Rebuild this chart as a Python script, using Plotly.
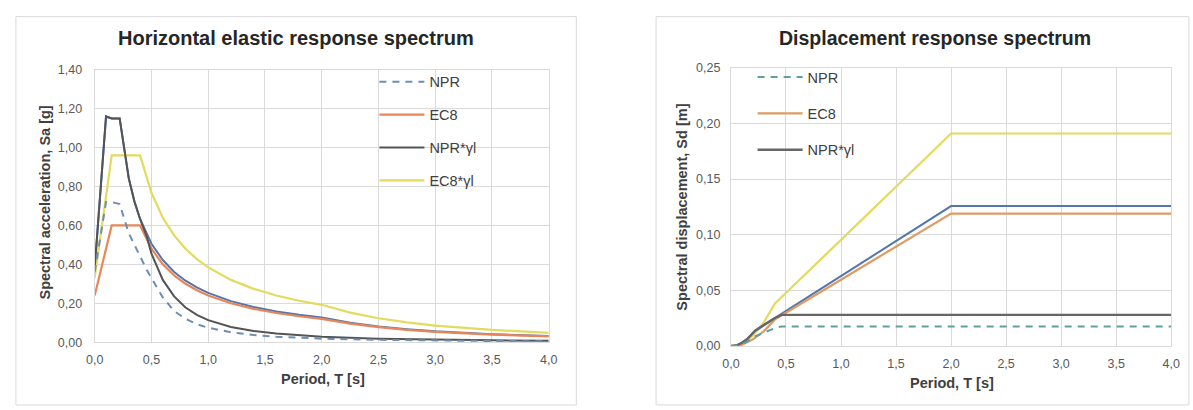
import plotly.graph_objects as go

# ---------------- data: left chart (spectral acceleration, g) ----------------
T_npr = [0, 0.1, 0.15, 0.22, 0.3, 0.35, 0.4, 0.46, 0.5, 0.6, 0.7, 0.8, 0.9, 1.0,
         1.2, 1.4, 1.6, 1.8, 2.0, 2.5, 3.0, 3.5, 4.0]
Sa_npr = [0.36, 0.72, 0.72, 0.71, 0.56, 0.50, 0.44, 0.37, 0.33, 0.23, 0.16, 0.12,
          0.092, 0.074, 0.051, 0.037, 0.028, 0.022, 0.018, 0.012, 0.008, 0.006, 0.0045]
Sa_npr_gl = [0.38, 1.16, 1.15, 1.15, 0.843, 0.723, 0.633, 0.54, 0.455, 0.32, 0.235,
             0.178, 0.140, 0.113, 0.078, 0.0575, 0.044, 0.035, 0.028, 0.018, 0.0125,
             0.0092, 0.007]

T_alt = [0, 0.1, 0.15, 0.22, 0.3, 0.35, 0.4, 0.5, 0.6, 0.7, 0.8, 0.9, 1.0, 1.2, 1.4,
         1.6, 1.8, 2.0, 2.25, 2.5, 2.75, 3.0, 3.5, 4.0]
Sa_alt = [0.38, 1.16, 1.15, 1.15, 0.843, 0.723, 0.633, 0.506, 0.422, 0.361, 0.316,
          0.281, 0.253, 0.211, 0.181, 0.158, 0.141, 0.127, 0.100, 0.081, 0.067, 0.056,
          0.041, 0.032]

T_ec8 = [0, 0.15, 0.4, 0.5, 0.6, 0.7, 0.8, 0.9, 1.0, 1.2, 1.4, 1.6, 1.8, 2.0, 2.25,
         2.5, 2.75, 3.0, 3.5, 4.0]
Sa_ec8 = [0.24, 0.60, 0.60, 0.48, 0.40, 0.343, 0.30, 0.267, 0.24, 0.20, 0.171, 0.15,
          0.133, 0.12, 0.095, 0.077, 0.063, 0.053, 0.039, 0.030]
Sa_ec8_gl = [0.33, 0.96, 0.96, 0.768, 0.64, 0.549, 0.48, 0.427, 0.384, 0.32, 0.274,
             0.24, 0.213, 0.192, 0.152, 0.123, 0.102, 0.085, 0.063, 0.048]

# ---------------- data: right chart (spectral displacement, m) ----------------
T_sd_npr = [0, 0.05, 0.1, 0.15, 0.22, 0.3, 0.4, 0.46, 1.0, 2.0, 3.0, 4.0]
Sd_npr = [0, 0.0003, 0.0018, 0.004, 0.0087, 0.0122, 0.0162, 0.0176, 0.0176, 0.0176,
          0.0176, 0.0176]
Sd_npr_gl = [0, 0.0005, 0.0029, 0.0064, 0.0138, 0.0189, 0.0252, 0.028, 0.028, 0.028,
             0.028, 0.028]

T_sd_alt = [0, 0.05, 0.1, 0.15, 0.22, 0.5, 1.0, 1.5, 2.0, 3.0, 4.0]
Sd_alt = [0, 0.0005, 0.0029, 0.0064, 0.0138, 0.0314, 0.0629, 0.0943, 0.1258, 0.1258,
          0.1258]

T_sd_ec8 = [0, 0.05, 0.1, 0.15, 0.2, 0.3, 0.4, 1.0, 2.0, 3.0, 4.0]
Sd_ec8 = [0, 0.0002, 0.0012, 0.0034, 0.006, 0.0134, 0.0239, 0.0596, 0.119, 0.119, 0.119]
Sd_ec8_gl = [0, 0.0003, 0.0019, 0.0054, 0.0095, 0.0215, 0.0382, 0.0954, 0.191, 0.191,
             0.191]

names = ["NPR", "EC8", "NPR*γl", "EC8*γl"]
x_ticks = [0, 0.5, 1.0, 1.5, 2.0, 2.5, 3.0, 3.5, 4.0]

# ---------------- styling ----------------
W, H = 1193, 410
FONT = "Liberation Sans, Arial, sans-serif"
C_NPR = "#6B8FB3"
C_NPR_R = "#5E9FA6"
C_EC8 = "#E8865A"
C_EC8_R = "#DE9B62"
C_NPRG = "#545454"
C_EC8G = "#E3DA5E"
C_ALT = "#5576AC"
GRID = "#DADADA"

def px_x(p):
    return p / W

def px_y(p):
    return 1 - p / H

fig = go.Figure()

# left traces
fig.add_trace(go.Scatter(x=T_alt, y=Sa_alt, mode="lines", name="alt", showlegend=False,
                         line=dict(color=C_ALT, width=2), xaxis="x", yaxis="y"))
fig.add_trace(go.Scatter(x=T_ec8, y=Sa_ec8_gl, mode="lines", name=names[3], legend="legend",
                         legendgroup="l4", legendrank=4,
                         line=dict(color=C_EC8G, width=2.2), xaxis="x", yaxis="y"))
fig.add_trace(go.Scatter(x=T_ec8, y=Sa_ec8, mode="lines", name=names[1], legend="legend",
                         legendgroup="l2", legendrank=2,
                         line=dict(color=C_EC8, width=2.2), xaxis="x", yaxis="y"))
fig.add_trace(go.Scatter(x=T_npr, y=Sa_npr_gl, mode="lines", name=names[2], legend="legend",
                         legendgroup="l3", legendrank=3,
                         line=dict(color=C_NPRG, width=2), xaxis="x", yaxis="y"))
fig.add_trace(go.Scatter(x=T_npr, y=Sa_npr, mode="lines", name=names[0], legend="legend",
                         legendgroup="l1", legendrank=1,
                         line=dict(color=C_NPR, width=2, dash="7px,6px"), xaxis="x", yaxis="y"))

# right traces
fig.add_trace(go.Scatter(x=T_sd_ec8, y=Sd_ec8_gl, mode="lines", name=names[3], showlegend=False,
                         line=dict(color=C_EC8G, width=2.2), xaxis="x2", yaxis="y2"))
fig.add_trace(go.Scatter(x=T_sd_alt, y=Sd_alt, mode="lines", name="alt", showlegend=False,
                         line=dict(color=C_ALT, width=2), xaxis="x2", yaxis="y2"))
fig.add_trace(go.Scatter(x=T_sd_ec8, y=Sd_ec8, mode="lines", name=names[1], legend="legend2",
                         legendgroup="r2", legendrank=2,
                         line=dict(color=C_EC8_R, width=2.2), xaxis="x2", yaxis="y2"))
fig.add_trace(go.Scatter(x=T_sd_npr, y=Sd_npr_gl, mode="lines", name=names[2], legend="legend2",
                         legendgroup="r3", legendrank=3,
                         line=dict(color="#666666", width=2.4), xaxis="x2", yaxis="y2"))
fig.add_trace(go.Scatter(x=T_sd_npr, y=Sd_npr, mode="lines", name=names[0], legend="legend2",
                         legendgroup="r1", legendrank=1,
                         line=dict(color=C_NPR_R, width=2, dash="7px,6px"), xaxis="x2", yaxis="y2"))

axis_common = dict(showgrid=True, gridcolor=GRID, gridwidth=1, zeroline=False,
                   showline=True, linecolor=GRID, linewidth=1, mirror=True,
                   ticks="outside", tickcolor="rgba(0,0,0,0)",
                   tickfont=dict(family=FONT, size=12.5, color="#595959"))

fig.update_layout(
    width=W, height=H,
    margin=dict(l=0, r=0, t=0, b=0),
    paper_bgcolor="white", plot_bgcolor="white",
    separators=",.",
    font=dict(family=FONT, color="#404040"),
    xaxis=dict(domain=[px_x(87), px_x(548)], range=[0, 4], tickvals=x_ticks,
               tickformat=".1f", anchor="y", ticklen=6, **axis_common),
    yaxis=dict(domain=[1 - 347 / H, 1 - 65 / H], range=[0, 1.4], dtick=0.2,
               tickformat=".2f", anchor="x", ticklen=9, **axis_common),
    xaxis2=dict(domain=[px_x(733), px_x(1180)], range=[0, 4], tickvals=x_ticks,
                tickformat=".1f", anchor="y2", ticklen=6, **axis_common),
    yaxis2=dict(domain=[1 - 351 / H, 1 - 63 / H], range=[0, 0.25], dtick=0.05,
                tickformat=".2f", anchor="x2", ticklen=7, **axis_common),
    legend=dict(x=px_x(371), y=px_y(61), xanchor="left", yanchor="top",
                traceorder="grouped", tracegroupgap=11, itemwidth=45,
                bgcolor="rgba(0,0,0,0)",
                font=dict(family=FONT, size=14.5, color="#404040")),
    legend2=dict(x=px_x(755), y=px_y(56), xanchor="left", yanchor="top",
                 traceorder="grouped", tracegroupgap=14.5, itemwidth=45,
                 bgcolor="rgba(0,0,0,0)",
                 font=dict(family=FONT, size=14.5, color="#404040")),
    showlegend=True,
)

# panel borders
fig.add_shape(type="rect", xref="paper", yref="paper",
              x0=px_x(7), x1=px_x(576), y0=px_y(412), y1=px_y(10),
              line=dict(color="#D9D9D9", width=1), fillcolor="rgba(0,0,0,0)", layer="below")
fig.add_shape(type="rect", xref="paper", yref="paper",
              x0=px_x(657), x1=px_x(1198), y0=px_y(412), y1=px_y(10),
              line=dict(color="#D9D9D9", width=1), fillcolor="rgba(0,0,0,0)", layer="below")

ann = [
    dict(text="<b>Horizontal elastic response spectrum</b>", x=px_x(291), y=px_y(32),
         size=20, color="#262626", angle=0),
    dict(text="<b>Displacement response spectrum</b>", x=px_x(940), y=px_y(32),
         size=19.5, color="#262626", angle=0),
    dict(text="<b>Period, T [s]</b>", x=px_x(319), y=px_y(385), size=14.5, color="#404040", angle=0),
    dict(text="<b>Period, T [s]</b>", x=px_x(957), y=px_y(389), size=14.5, color="#404040", angle=0),
    dict(text="<b>Spectral acceleration, Sa [g]</b>", x=px_x(37), y=px_y(202), size=14.5,
         color="#404040", angle=-90),
    dict(text="<b>Spectral displacement, Sd [m]</b>", x=px_x(683), y=px_y(207), size=14.5,
         color="#404040", angle=-90),
]
for a in ann:
    fig.add_annotation(text=a["text"], x=a["x"], y=a["y"], xref="paper", yref="paper",
                       xanchor="center", yanchor="middle", showarrow=False, textangle=a["angle"],
                       font=dict(family=FONT, size=a["size"], color=a["color"]))

fig.write_html("out.html")
